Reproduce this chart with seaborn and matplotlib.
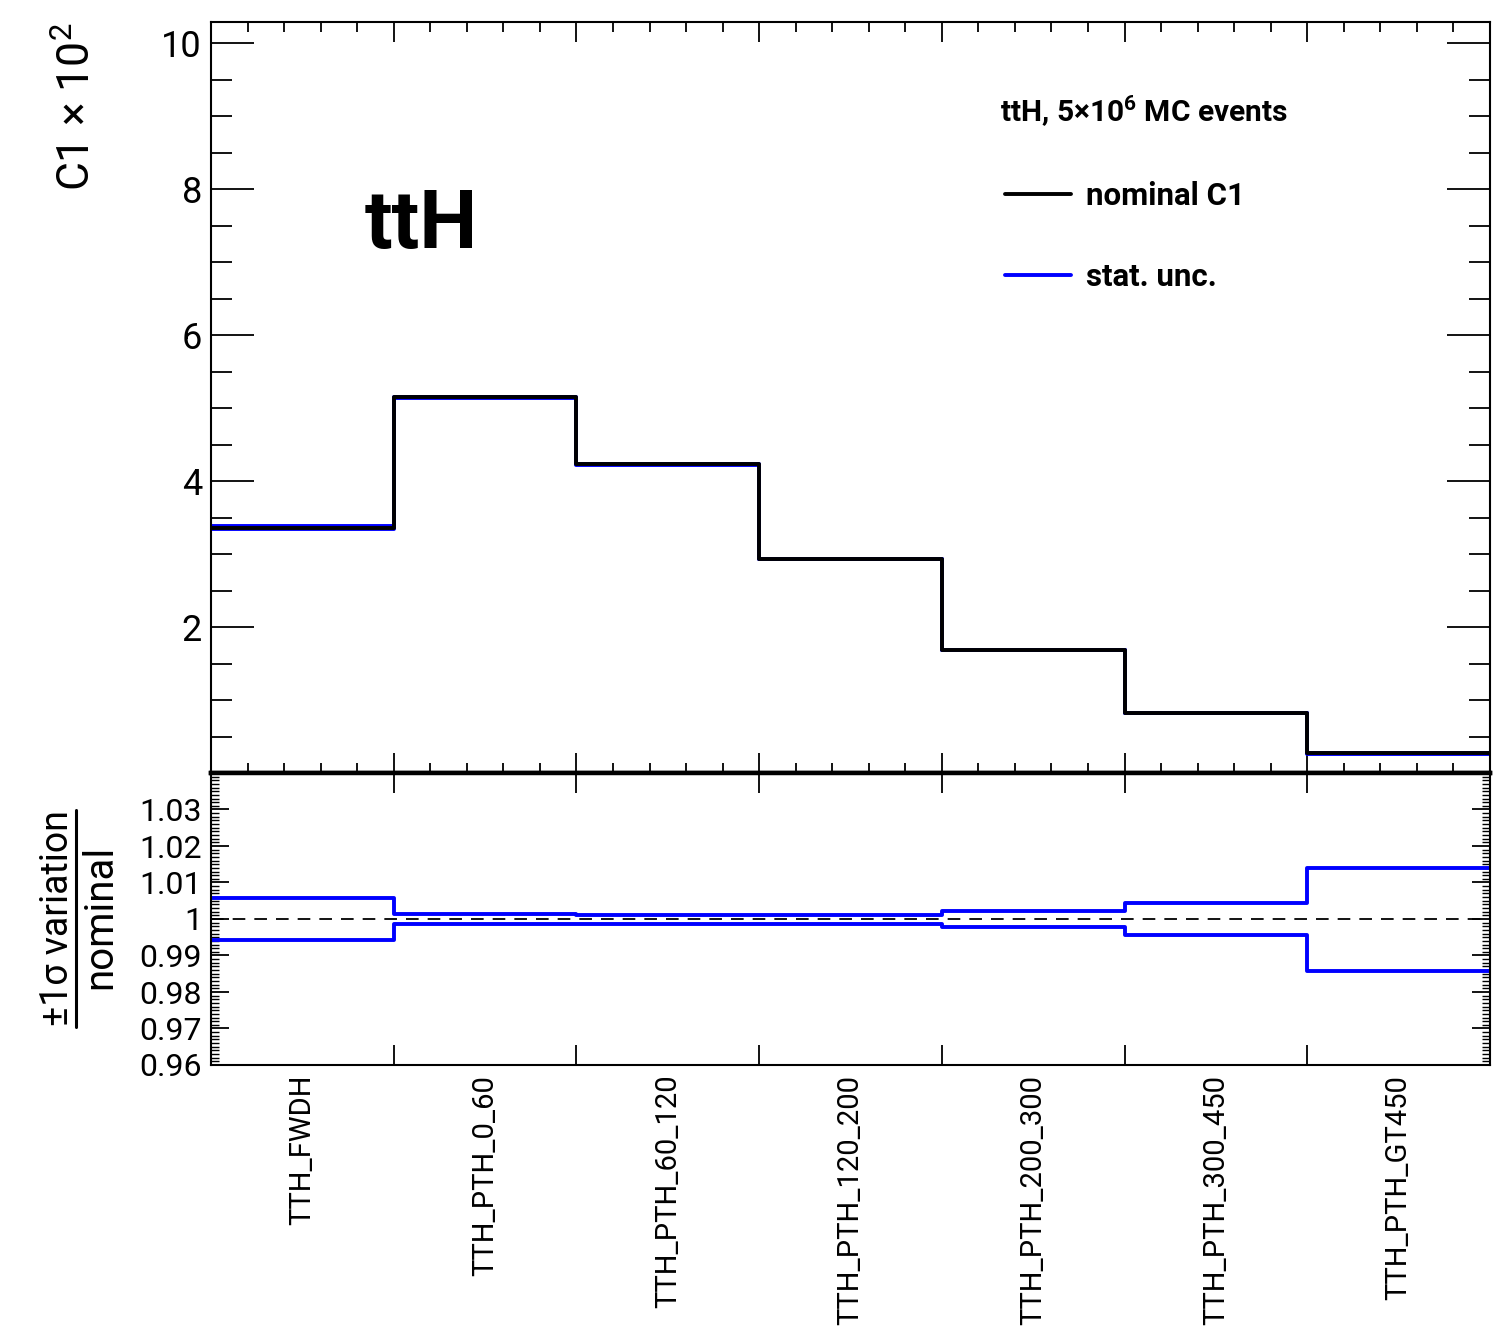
import matplotlib
matplotlib.use("Agg")
import matplotlib.pyplot as plt
from matplotlib.ticker import FixedLocator, MultipleLocator, FixedFormatter
from matplotlib.lines import Line2D
import numpy as np
import pandas as pd
import seaborn as sns

# ---------------- data ----------------
categories = ["TTH_FWDH", "TTH_PTH_0_60", "TTH_PTH_60_120", "TTH_PTH_120_200",
              "TTH_PTH_200_300", "TTH_PTH_300_450", "TTH_PTH_GT450"]
c1_nominal = [3.36, 5.15, 4.23, 2.93, 1.685, 0.82, 0.27]          # C1 x 10^2
ratio_up = [1.0057, 1.0015, 1.0012, 1.0012, 1.0023, 1.0044, 1.0141]
ratio_down = [0.9943, 0.9985, 0.9986, 0.9987, 0.9978, 0.9957, 0.9857]
top_yticks = [2, 4, 6, 8, 10]
top_yticklabels = ["2", "4", "6", "8", "10"]
ratio_yticks = [0.96, 0.97, 0.98, 0.99, 1.00, 1.01, 1.02, 1.03]
ratio_yticklabels = ["0.96", "0.97", "0.98", "0.99", "1", "1.01", "1.02", "1.03"]

# ---------------- style ----------------
sns.set_style("white")
plt.rcParams["font.family"] = ["Roboto", "DejaVu Sans"]
plt.rcParams["mathtext.fontset"] = "custom"
plt.rcParams["mathtext.rm"] = "Roboto"
plt.rcParams["mathtext.bf"] = "Roboto:bold"
plt.rcParams["axes.linewidth"] = 1.5
plt.rcParams["text.color"] = "black"
plt.rcParams["axes.edgecolor"] = "black"
plt.rcParams["xtick.color"] = "black"
plt.rcParams["ytick.color"] = "black"
plt.rcParams["axes.labelcolor"] = "black"

BLUE = "#0000ff"
n = len(categories)
edges = [float(e) for e in range(n + 1)]
centers = [i + 0.5 for i in range(n)]

df = pd.DataFrame({
    "bin": centers,
    "nominal": c1_nominal,
    "up": np.array(c1_nominal) * np.array(ratio_up),
    "down": np.array(c1_nominal) * np.array(ratio_down),
    "r_up": ratio_up,
    "r_down": ratio_down,
})

W, H = 1512, 1340
fig = plt.figure(figsize=(W / 100, H / 100), dpi=100)
left, right = 211 / W, 1490 / W
y_top1, y_mid, y_bot = 1 - 22 / H, 1 - 773 / H, 1 - 1065 / H
ax1 = fig.add_axes([left, y_mid, right - left, y_top1 - y_mid])
ax2 = fig.add_axes([left, y_bot, right - left, y_mid - y_bot])

LW = 2.8
# ---------------- top panel ----------------
for col in ["up", "down"]:
    sns.histplot(data=df, x="bin", weights=col, bins=edges, element="step",
                 fill=False, color=BLUE, linewidth=LW, ax=ax1)
sns.histplot(data=df, x="bin", weights="nominal", bins=edges, element="step",
             fill=False, color="black", linewidth=LW, ax=ax1)
ax1.set_xlim(0, n)
ax1.set_ylim(0, 10.29)
ax1.set_xlabel("")
ax1.set_ylabel("")
ax1.xaxis.set_major_locator(FixedLocator(edges))
ax1.xaxis.set_minor_locator(MultipleLocator(0.2))
ax1.yaxis.set_major_locator(FixedLocator(top_yticks))
ax1.yaxis.set_major_formatter(FixedFormatter(top_yticklabels))
ax1.yaxis.set_minor_locator(MultipleLocator(0.5))
ax1.tick_params(axis="x", which="major", direction="in", length=14.4, width=1.3,
                top=True, bottom=True, labelbottom=False)
ax1.tick_params(axis="x", which="minor", direction="in", length=7.2, width=1.3,
                top=True, bottom=True)
ax1.tick_params(axis="y", which="major", direction="in", length=31, width=1.3,
                left=True, right=True, labelsize=26, pad=6.5)
ax1.tick_params(axis="y", which="minor", direction="in", length=15, width=1.3,
                left=True, right=True)
ax1.spines["bottom"].set_linewidth(3.2)
for s in ["top", "left", "right"]:
    ax1.spines[s].set_linewidth(1.5)

ax1.text((365 - 211) / 1279, (773 - 248) / 751, "ttH", transform=ax1.transAxes,
         fontsize=59, fontweight="bold", ha="left", va="baseline")
ax1.text((1000 - 211) / 1279, (773 - 122) / 751,
         r"ttH, 5$\mathbf{\times}$10$^{\mathbf{6}}$ MC events",
         transform=ax1.transAxes, fontsize=21.5, fontweight="bold",
         ha="left", va="baseline")
ax1.legend(handles=[ax1.lines[2], ax1.lines[0]], labels=["nominal C1", "stat. unc."],
           loc="upper left", bbox_to_anchor=((1005 - 211) / 1279, (773 - 181) / 751),
           frameon=False, prop={"weight": "bold", "size": 22.5}, handlelength=2.1,
           handletextpad=0.5, labelspacing=1.62, borderpad=0, borderaxespad=0)

# ---------------- ratio panel ----------------
for col in ["r_up", "r_down"]:
    sns.histplot(data=df, x="bin", weights=col, bins=edges, element="step",
                 fill=False, color=BLUE, linewidth=LW, ax=ax2)
ax2.axhline(1.0, color="black", lw=1.3, linestyle=(0, (7, 5)), zorder=1)
ax2.set_xlim(0, n)
ax2.set_ylim(0.96, 1.04)
ax2.set_xlabel("")
ax2.set_ylabel("")
ax2.yaxis.set_major_locator(FixedLocator(ratio_yticks))
ax2.yaxis.set_major_formatter(FixedFormatter(ratio_yticklabels))
ax2.yaxis.set_minor_locator(MultipleLocator(0.001))
ax2.tick_params(axis="y", which="major", direction="in", length=13, width=1.3,
                left=True, right=True, labelsize=23, pad=6.5)
ax2.tick_params(axis="y", which="minor", direction="in", length=6, width=1.0,
                left=True, right=True)
ax2.xaxis.set_major_locator(FixedLocator(edges))
ax2.xaxis.set_major_formatter(FixedFormatter([""] * (n + 1)))
ax2.xaxis.set_minor_locator(FixedLocator(centers))
ax2.xaxis.set_minor_formatter(FixedFormatter(categories))
ax2.tick_params(axis="x", which="major", direction="in", length=14.4, width=1.3,
                top=True, bottom=True)
ax2.tick_params(axis="x", which="minor", length=0, labelsize=21, pad=7,
                labelrotation=90)
for lab in ax2.get_xticklabels(minor=True):
    lab.set_va("top")
    lab.set_ha("center")
for s in ["top", "bottom", "left", "right"]:
    ax2.spines[s].set_linewidth(1.5)
ax2.spines["top"].set_linewidth(3.2)

# ---------------- axis titles ----------------
fig.text(77 / W, 1 - 107 / H, "C1 × 10$^{2}$", rotation=90, fontsize=32,
         ha="center", va="center")
fig.text(57 / W, 1 - 918 / H, "±1σ variation", rotation=90, fontsize=27,
         ha="center", va="center")
fig.text(100 / W, 1 - 917 / H, "nominal", rotation=90, fontsize=29,
         ha="center", va="center")
fig.add_artist(Line2D([76 / W, 76 / W], [1 - 810 / H, 1 - 1027 / H],
                      transform=fig.transFigure, color="black", lw=2.2))

fig.savefig("out.png", dpi=100, facecolor="white")
